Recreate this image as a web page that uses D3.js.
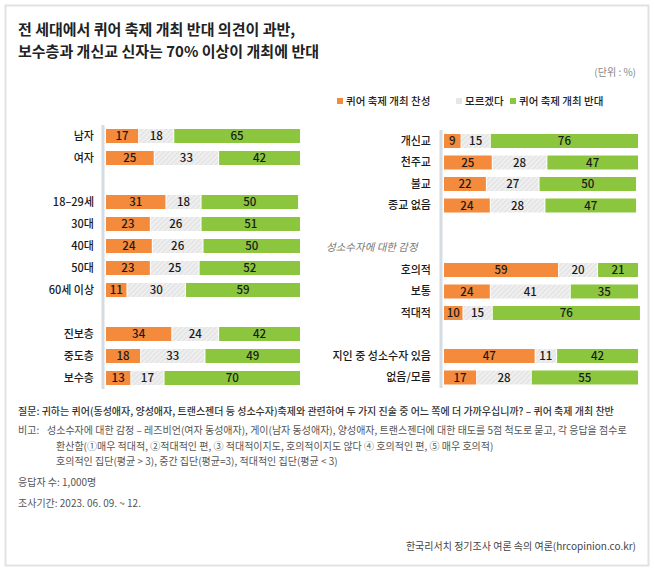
<!DOCTYPE html>
<html><head><meta charset="utf-8">
<script src="https://cdn.jsdelivr.net/npm/d3@7"></script>
<style>
html,body{margin:0;padding:0;background:#fff;}
svg{display:block;font-family:"Noto Sans CJK KR","Noto Sans",sans-serif;}
</style></head>
<body><div id="chart"></div>
<script>
// ---- data ----
const seriesNames = ["퀴어 축제 개최 찬성","모르겠다","퀴어 축제 개최 반대"];

const leftGender = ["남자","여자"];
const leftAge = ["18–29세","30대","40대","50대","60세 이상"];
const leftIdeology = ["진보층","중도층","보수층"];
const leftFavor  = [17,25,31,23,24,23,11,34,18,13];
const leftUnsure = [18,33,18,26,26,25,30,24,33,17];
const leftOppose = [65,42,50,51,50,52,59,42,49,70];

const rightReligion = ["개신교","천주교","불교","종교 없음"];
const rightFeelingTitle = "성소수자에 대한 감정";
const rightFeeling = ["호의적","보통","적대적"];
const rightAcquaint = ["지인 중 성소수자 있음","없음/모름"];
const rightFavor  = [9,25,22,24,59,24,10,47,17];
const rightUnsure = [15,28,27,28,20,41,15,11,28];
const rightOppose = [76,47,50,47,21,35,76,42,55];

const titleLines = ["전 세대에서 퀴어 축제 개최 반대 의견이 과반,","보수층과 개신교 신자는 70% 이상이 개최에 반대"];
const unitText = "(단위 : %)";
const footQuestion = "질문: 귀하는 퀴어(동성애자, 양성애자, 트랜스젠더 등 성소수자)축제와 관련하여 두 가지 진술 중 어느 쪽에 더 가까우십니까? – 퀴어 축제 개최 찬반";
const footNoteLabel = "비고:";
const footNoteLines = ["성소수자에 대한 감정 – 레즈비언(여자 동성애자), 게이(남자 동성애자), 양성애자, 트랜스젠더에 대한 태도를 5점 척도로 묻고, 각 응답을 점수로",
  "환산함(①매우 적대적, ②적대적인 편, ③ 적대적이지도, 호의적이지도 않다 ④ 호의적인 편, ⑤ 매우 호의적)",
  "호의적인 집단(평균 > 3), 중간 집단(평균=3), 적대적인 집단(평균 < 3)"];
const footN = "응답자 수: 1,000명";
const footPeriod = "조사기간: 2023. 06. 09. ~ 12.";
const footSource = "한국리서치 정기조사 여론 속의 여론(hrcopinion.co.kr)";

// ---- styles ----
const W = 654, H = 571;
const colors = ["#F48A3C", "url(#hatch)", "#8CC63F"];
const legendColors = ["#F48A3C", "#e6e6e6", "#8CC63F"];

const svg = d3.select("#chart").append("svg").attr("width", W).attr("height", H);
const defs = svg.append("defs");
const pat = defs.append("pattern").attr("id","hatch").attr("patternUnits","userSpaceOnUse")
  .attr("width",3.5).attr("height",3.5).attr("patternTransform","rotate(45)");
pat.append("rect").attr("width",3.5).attr("height",3.5).attr("fill","#e5e5e5");
pat.append("line").attr("x1",1).attr("y1",0).attr("x2",1).attr("y2",3.5).attr("stroke","#f5f5f5").attr("stroke-width",1.2);

svg.append("rect").attr("x",0).attr("y",0).attr("width",W).attr("height",H).attr("fill","#fff");
svg.append("rect").attr("x",5.5).attr("y",5.5).attr("width",643).attr("height",560)
  .attr("fill","#fff").attr("stroke","#e2e2e2").attr("stroke-width",2);

// title
svg.selectAll("text.title").data(titleLines).join("text").attr("class","title")
  .attr("x",18).attr("y",(d,i)=>35+i*22).attr("font-size",15).attr("font-weight",700)
  .attr("fill","#222").text(d=>d);

svg.append("text").attr("x",636).attr("y",76).attr("text-anchor","end")
  .attr("font-size",10).attr("fill","#888").text(unitText);

// legend
const legendX = [337, 456, 510];
const lg = svg.append("g");
seriesNames.forEach((s,i)=>{
  lg.append("rect").attr("x",legendX[i]).attr("y",98).attr("width",6).attr("height",6).attr("fill",legendColors[i]);
  lg.append("text").attr("x",legendX[i]+9).attr("y",105).attr("font-size",10.5).attr("font-weight",500).attr("fill","#222").text(s);
});

function panel(opts){
  const {cats, domain, favor, unsure, oppose, x0, x1, yRange, axisX, axisY, labelX} = opts;
  const x = d3.scaleLinear().domain([0,100]).range([x0, x1]);
  const y = d3.scaleBand().domain(domain).range(yRange).paddingInner(opts.pad).paddingOuter(opts.pad/2);
  const g = svg.append("g");
  g.append("line").attr("x1",axisX).attr("x2",axisX).attr("y1",axisY[0]).attr("y2",axisY[1])
    .attr("stroke","#d6dce3").attr("stroke-width",3);
  const rows = cats.map((c,i)=>({c, vals:[favor[i],unsure[i],oppose[i]]}));
  rows.forEach(r=>{
    let acc = 0;
    r.vals.forEach((v,k)=>{
      const a = x(acc), b = x(acc+v);
      g.append("rect").attr("x",a).attr("y",y(r.c)).attr("width",Math.max(0,b-a-1))
        .attr("height",y.bandwidth()).attr("fill",colors[k]);
      g.append("text").attr("x",(a+b-1)/2).attr("y",y(r.c)+y.bandwidth()/2)
        .attr("dy","0.36em").attr("text-anchor","middle").attr("font-size",11.5)
        .attr("font-weight",500).attr("fill","#1a1a1a").text(v);
      acc += v;
    });
    g.append("text").attr("x",labelX).attr("y",y(r.c)+y.bandwidth()/2).attr("dy","0.36em")
      .attr("text-anchor","end").attr("font-size",11).attr("font-weight",500).attr("fill","#1a1a1a").text(r.c);
  });
  return {x,y,g};
}

const leftCats = [...leftGender, ...leftAge, ...leftIdeology];
panel({cats:leftCats,
  domain:[...leftGender,"_g1",...leftAge,"_g2",...leftIdeology],
  favor:leftFavor, unsure:leftUnsure, oppose:leftOppose,
  x0:106, x1:301, yRange:[125,389], pad:8/22, axisX:103, axisY:[125,389], labelX:94});

const rightCats = [...rightReligion, ...rightFeeling, ...rightAcquaint];
const R = panel({cats:rightCats,
  domain:[...rightReligion,"_g1","_head",...rightFeeling,"_g2",...rightAcquaint],
  favor:rightFavor, unsure:rightUnsure, oppose:rightOppose,
  x0:444, x1:639, yRange:[130.25,388.25], pad:7.5/21.5, axisX:441, axisY:[130,388], labelX:431});
R.g.append("text").attr("x",326).attr("y",R.y("_head")+R.y.bandwidth()/2-1).attr("dy","0.36em")
  .attr("font-size",10.5).attr("font-style","italic").attr("fill","#777").text(rightFeelingTitle);

// footer
const fs = 10;
const ft = svg.append("g").attr("font-size",fs).attr("fill","#333");
ft.append("text").attr("x",18).attr("y",415).attr("font-weight",500).text(footQuestion);
ft.append("text").attr("x",18).attr("y",434).attr("fill","#555").text(footNoteLabel);
footNoteLines.forEach((l,i)=>{
  ft.append("text").attr("x", i===0?47:56).attr("y",434+i*15.5).attr("fill","#555").text(l);
});
ft.append("text").attr("x",18).attr("y",486).attr("fill","#555").text(footN);
ft.append("text").attr("x",18).attr("y",507).attr("fill","#555").text(footPeriod);
ft.append("text").attr("x",636).attr("y",550).attr("text-anchor","end").attr("fill","#444").text(footSource);
</script></body></html>
